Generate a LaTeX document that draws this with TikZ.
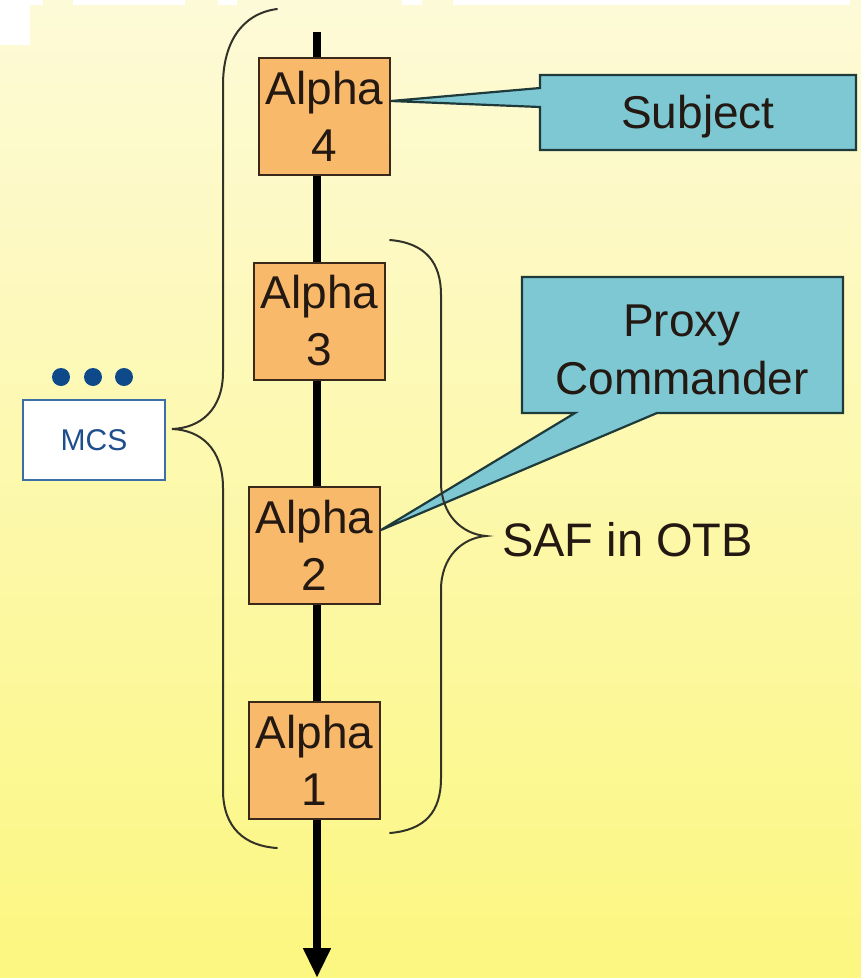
\documentclass[tikz,border=0pt]{standalone}
\usepackage{fontspec}
\setmainfont{Liberation Sans}
\usetikzlibrary{arrows.meta,calc}
\definecolor{bgtop}{RGB}{253,250,216}
\definecolor{bgbot}{RGB}{252,247,128}
\definecolor{boxfill}{RGB}{249,185,106}
\definecolor{boxline}{RGB}{58,40,26}
\definecolor{tealfill}{RGB}{126,200,212}
\definecolor{tealline}{RGB}{30,58,58}
\definecolor{mcsline}{RGB}{60,110,168}
\definecolor{mcstext}{RGB}{31,78,140}
\definecolor{dotblue}{RGB}{14,74,138}
\definecolor{braceline}{RGB}{50,50,40}
\definecolor{txt}{RGB}{35,25,18}
\begin{document}
\begin{tikzpicture}[x=1pt,y=-1pt,
  alphabox/.style={draw=boxline,line width=2pt,fill=boxfill,minimum width=131pt,minimum height=117pt,inner sep=0pt,align=center,text=txt,font=\fontsize{46}{57}\selectfont},
  callouttext/.style={inner sep=0pt,align=center,text=txt,font=\fontsize{46}{58}\selectfont},
  callout/.style={draw=tealline,line width=2.2pt,fill=tealfill,line join=miter},
  bracestyle/.style={draw=braceline,line width=2pt,line cap=round},
  mainline/.style={line width=8pt,draw=black},
  dotstyle/.style={circle,fill=dotblue,minimum size=18pt,inner sep=0pt}
]
\useasboundingbox (0,0) rectangle (861,978);
\shade[top color=bgtop,bottom color=bgbot] (0,0) rectangle (861,978);
% scan artifacts
\fill[white] (0,0) rectangle (30,45);
\fill[white] (0,0) rectangle (43,5);
\fill[white] (73,0) rectangle (185,5);
\fill[white] (218,0) rectangle (237,5);
\fill[white] (402,0) rectangle (422,5);
\fill[white] (453,0) rectangle (850,5);

% main axis
\coordinate (top) at (317,32);
\coordinate (bot) at (317,978);
\draw[mainline,-{Triangle[length=30pt,width=26pt]}] (top) -- (bot);

% alpha boxes
\node[alphabox] (a4) at (324.5,116.5) {Alpha\\4};
\node[alphabox] (a3) at (319.5,321) {Alpha\\3};
\node[alphabox] (a2) at (314.5,545) {Alpha\\2};
\node[alphabox] (a1) at (314.5,760.5) {Alpha\\1};

% Subject callout
\coordinate (s1) at (540,75);
\coordinate (s2) at (856,75);
\coordinate (s3) at (856,150);
\coordinate (s4) at (540,150);
\coordinate (s5) at (540,107);
\coordinate (s6) at (540,88);
\draw[callout] (s1) -- (s2) -- (s3) -- (s4) -- (s5) -- (a4.east |- 0,101) -- (s6) -- cycle;
\node[callouttext] (subj) at (698,117) {Subject};

% Proxy Commander callout
\coordinate (p1) at (522,277);
\coordinate (p2) at (843,277);
\coordinate (p3) at (843,413);
\coordinate (p4) at (657,413);
\coordinate (p5) at (575,413);
\coordinate (p6) at (522,413);
\draw[callout] (p1) -- (p2) -- (p3) -- (p4) -- (a2.east |- 0,530) -- (p5) -- (p6) -- cycle;
\node[callouttext] (proxy) at (682,350) {Proxy\\Commander};

% big left brace
\coordinate (btop) at (277,9);
\coordinate (btip) at (172,429);
\coordinate (bbot) at (277,848);
\draw[bracestyle] (btop) .. controls (240,14) and (223,45) .. (223,85)
  -- (223,372) .. controls (223,410) and (200,428) .. (btip)
  .. controls (200,430) and (223,448) .. (223,488)
  -- (223,790) .. controls (223,828) and (245,846) .. (bbot);

% right brace (SAF)
\coordinate (rtop) at (390,240);
\coordinate (rtip) at (486,536);
\coordinate (rbot) at (390,833);
\draw[bracestyle] (rtop) .. controls (425,243) and (441,262) .. (441,295)
  -- (441,482) .. controls (441,515) and (462,534) .. (rtip)
  .. controls (462,538) and (441,557) .. (441,590)
  -- (441,778) .. controls (441,812) and (425,830) .. (rbot);
\node[anchor=west,inner sep=0pt,text=txt,font=\fontsize{47}{56}\selectfont] (saf) at (502,540) {SAF in OTB};

% MCS
\node[draw=mcsline,line width=2pt,fill=white,minimum width=142pt,minimum height=80pt,inner sep=0pt,text=mcstext,font=\fontsize{30}{36}\selectfont] (mcs) at (94,440) {MCS};
\node[dotstyle] (d1) at (61,377) {};
\node[dotstyle] (d2) at (93,377) {};
\node[dotstyle] (d3) at (124,377) {};
\end{tikzpicture}
\end{document}
